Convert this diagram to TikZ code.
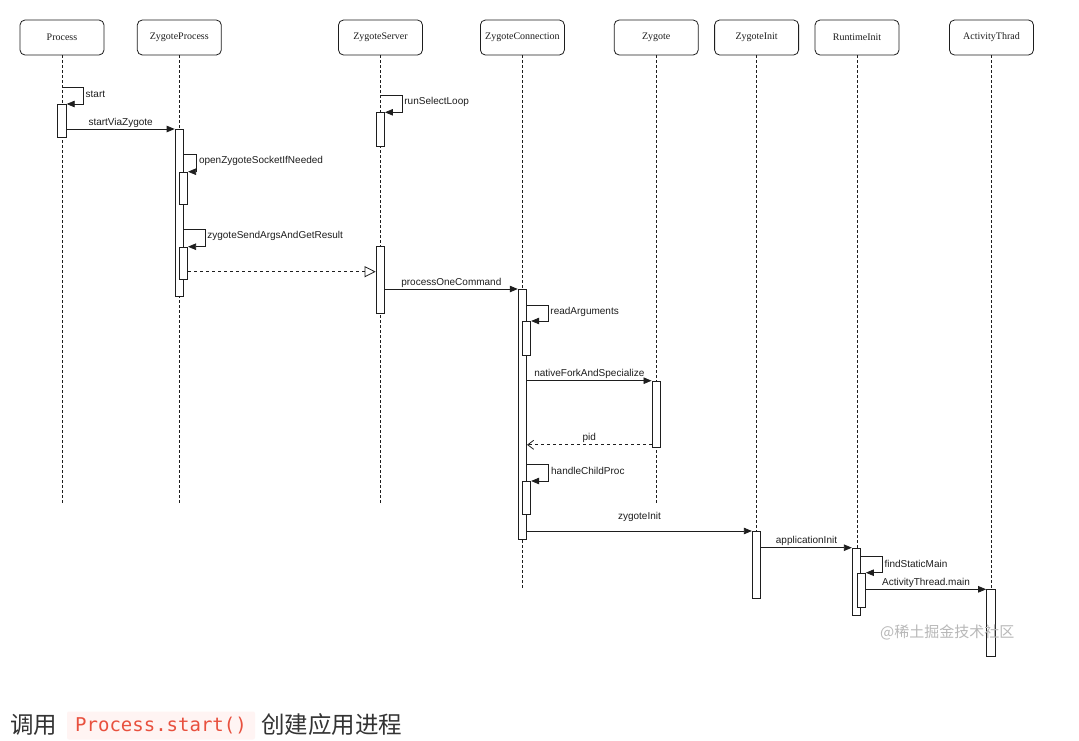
\documentclass[tikz,border=0pt]{standalone}
\usepackage{fontspec}
\setmainfont{Liberation Sans}
\newfontfamily\serfont{Liberation Serif}
\newfontfamily\cjk{Noto Sans CJK SC}
\newfontfamily\codefont{DejaVu Sans Mono}
\usetikzlibrary{arrows.meta,calc}
\definecolor{ink}{HTML}{1E1E1E}
\definecolor{capt}{HTML}{333333}
\definecolor{codered}{RGB}{232,80,62}
\definecolor{codebg}{RGB}{255,244,243}
\definecolor{wmgray}{HTML}{B8B8B8}
\begin{document}
\begin{tikzpicture}[x=1pt,y=-1pt,
  head/.style={draw=ink, line width=0.8pt, rounded corners=5pt, minimum width=84pt, minimum height=35pt, inner sep=0pt, font=\serfont\fontsize{10}{12}\selectfont, text=ink},
  life/.style={draw=ink, line width=0.7pt, dash pattern=on 2.5pt off 2.5pt},
  act/.style={draw=ink, fill=white, line width=0.8pt, minimum width=8.5pt, inner sep=0pt, anchor=north},
  msg/.style={draw=ink, line width=0.8pt, -{Triangle[length=8pt,width=6.5pt]}},
  retopen/.style={draw=ink, line width=0.8pt, dash pattern=on 3pt off 3pt, -{Triangle[open,length=11pt,width=11pt]}},
  retbarb/.style={draw=ink, line width=0.8pt, dash pattern=on 3pt off 3pt, -{Straight Barb[length=6pt,width=9pt]}},
  lbl/.style={font=\fontsize{10}{12}\selectfont, text=ink, inner sep=1.5pt},
  loopl/.style={lbl, anchor=west, yshift=-7pt, inner sep=2pt}]
\useasboundingbox (0,0) rectangle (1079,740);
\fill[white] (0,0) rectangle (1079,740);

% headers
\node[head] (hP)  at (62,37.5)    {Process};
\node[head] (hZP) at (179.3,37.5) {ZygoteProcess};
\node[head] (hZS) at (380.5,37.5) {ZygoteServer};
\node[head] (hZC) at (522.4,37.5) {ZygoteConnection};
\node[head] (hZ)  at (656.2,37.5) {Zygote};
\node[head] (hZI) at (756.6,37.5) {ZygoteInit};
\node[head] (hRI) at (857,37.5)   {RuntimeInit};
\node[head] (hAT) at (991.5,37.5) {ActivityThrad};

% lifeline ends
\coordinate (eA) at (0,503);
\coordinate (eZC) at (0,590);
\coordinate (eZI) at (0,598);
\coordinate (eRI) at (0,614);
\coordinate (eAT) at (0,656);
\draw[life] (hP.south)  -- (hP.south |- eA);
\draw[life] (hZP.south) -- (hZP.south |- eA);
\draw[life] (hZS.south) -- (hZS.south |- eA);
\draw[life] (hZC.south) -- (hZC.south |- eZC);
\draw[life] (hZ.south)  -- (hZ.south |- eA);
\draw[life] (hZI.south) -- (hZI.south |- eZI);
\draw[life] (hRI.south) -- (hRI.south |- eRI);
\draw[life] (hAT.south) -- (hAT.south |- eAT);

% activations
\node[act, minimum height=33pt]    (aP)   at (62,104)      {};
\node[act, minimum height=167pt]   (aZP)  at (179.3,129)   {};
\node[act, minimum height=32.6pt]  (aZP1) at (183.4,171.7) {};
\node[act, minimum height=32.6pt]  (aZP2) at (183.4,246.7) {};
\node[act, minimum height=33.4pt]  (aZS1) at (380.3,112.3) {};
\node[act, minimum height=67.3pt]  (aZS2) at (380.3,246)   {};
\node[act, minimum height=250pt]   (aZC)  at (522.4,289)   {};
\node[act, minimum height=34pt]    (aZC1) at (526.5,321)   {};
\node[act, minimum height=66.6pt]  (aZ)   at (656.2,380.7) {};
\node[act, minimum height=33.3pt]  (aZC2) at (526.5,481)   {};
\node[act, minimum height=67.3pt]  (aZI)  at (756.5,531)   {};
\node[act, minimum height=67pt]    (aRI)  at (856.5,547.7) {};
\node[act, minimum height=34pt]    (aRI1) at (861.2,572.7) {};
\node[act, minimum height=66.7pt]  (aAT)  at (990.8,589.3) {};

% messages
\draw[msg] (aP.north) ++(0,-17) -- ++(21.3,0) node[loopl]{start} |- (aP.north east);
\draw[msg] (aP.east |- aZP.north) -- (aZP.north west) node[lbl, midway, above]{startViaZygote};
\draw[msg] (aZP1.north east -| aZP.east) ++(0,-17.4) -- ++(12.7,0) node[loopl]{openZygoteSocketIfNeeded} |- (aZP1.north east);
\draw[msg] (aZP2.north east -| aZP.east) ++(0,-17.4) -- ++(21,0) node[loopl]{zygoteSendArgsAndGetResult} |- (aZP2.north east);
\coordinate (r1) at ($(aZP2.north east)+(0,25)$);
\draw[retopen] (r1) -- (r1 -| aZS2.west);
\draw[msg] (aZS1.north) ++(0,-17.3) -- ++(21.7,0) node[loopl]{runSelectLoop} |- (aZS1.north east);
\draw[msg] (aZS2.east |- aZC.north) -- (aZC.north west) node[lbl, midway, above]{processOneCommand};
\draw[msg] (aZC1.north east -| aZC.east) ++(0,-16) -- ++(21,0) node[loopl]{readArguments} |- (aZC1.north east);
\draw[msg] (aZC.east |- aZ.north) -- (aZ.north west) node[lbl, midway, above]{nativeForkAndSpecialize};
\coordinate (r2) at ($(aZ.south west)+(0,-3.3)$);
\draw[retbarb] (r2) -- (r2 -| aZC.east) node[lbl, midway, above]{pid};
\draw[msg] (aZC2.north east -| aZC.east) ++(0,-16.7) -- ++(21.7,0) node[loopl]{handleChildProc} |- (aZC2.north east);
\draw[msg] (aZC.east |- aZI.north) -- (aZI.north west) node[lbl, midway, above, yshift=8pt]{zygoteInit};
\draw[msg] (aZI.east |- aRI.north) -- (aRI.north west) node[lbl, midway, above]{applicationInit};
\draw[msg] (aRI1.north east -| aRI.east) ++(0,-16) -- ++(21,0) node[loopl]{findStaticMain} |- (aRI1.north east);
\draw[msg] (aRI1.east |- aAT.north) -- (aAT.north west) node[lbl, midway, above]{ActivityThread.main};

% watermark
\node[font=\cjk\fontsize{15}{16}\selectfont, text=wmgray, anchor=west, inner sep=0pt] (wm) at (880,632.7) {@稀土掘金技术社区};

% caption
\node[font=\cjk\fontsize{23.5}{25}\selectfont, text=capt, anchor=west, inner sep=0pt] (c1) at (10,725) {调用};
\node[fill=codebg, minimum width=188pt, minimum height=28pt, inner sep=0pt, rounded corners=2pt] (c2) at (161,725.5) {\codefont\fontsize{19}{20}\selectfont\color{codered}Process.start()};
\node[font=\cjk\fontsize{23.5}{25}\selectfont, text=capt, anchor=west, inner sep=0pt] (c3) at (261,725) {创建应用进程};
\end{tikzpicture}
\end{document}
